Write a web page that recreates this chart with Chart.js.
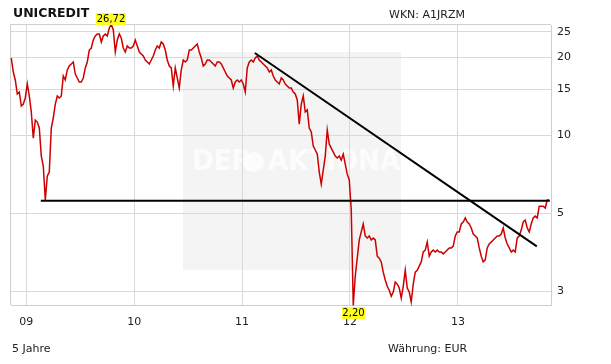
<!DOCTYPE html>
<html>
<head>
<meta charset="UTF-8">
<style>
  html, body { margin: 0; padding: 0; background: #fff; }
  #wrap { position: relative; width: 611px; height: 364px; }
  canvas { position: absolute; left: 0; top: 0; }
  .txt { position: absolute; font-family: "DejaVu Sans", sans-serif; font-size: 11px; line-height: 13px; color: #222; white-space: nowrap; }
</style>
</head>
<body>
<div id="wrap">
  <canvas id="myChart" width="611" height="364"></canvas>
  <div class="txt" style="left:13px;top:5px;font-size:12.5px;line-height:15px;font-weight:bold;color:#111">UNICREDIT</div>
  <div class="txt" style="left:389px;top:8px">WKN: A1JRZM</div>
  <div class="txt" style="left:12px;top:342px">5 Jahre</div>
  <div class="txt" style="left:388px;top:342px">Währung: EUR</div>
</div>

<script src="https://cdn.jsdelivr.net/npm/chart.js"></script>

<script>
    // Achsen
    const axisStart = '2008-11-10';
    const axisEnd = '2013-11-12';
    const yearTicks = [2009, 2010, 2011, 2012, 2013];
    const yearLabels = ['09', '10', '11', '12', '13'];
    const priceTicks = [2.5, 5, 10, 15, 20, 25];

    // Wochenschlusskurse (EUR), gleichmaessig zwischen erstem und letztem Schluss
    const firstClose = '2008-11-11';
    const lastClose = '2013-11-06';
    const closes = [
        19.84, 17.52, 16.32, 14.41, 14.67, 12.95, 13.18, 13.91, 15.75, 14.16,
        12.28, 9.74, 11.43, 11.23, 10.65, 8.30, 7.60, 5.62, 6.95, 7.20,
        10.65, 11.64, 13.18, 14.16, 13.91, 14.16, 16.91, 16.32, 17.84, 18.48,
        18.81, 19.15, 17.21, 16.61, 16.03, 16.03, 16.61, 18.16, 19.15, 21.30,
        21.68, 23.28, 24.12, 24.55, 24.55, 22.87, 24.12, 24.55, 24.12, 25.90,
        26.72, 25.44, 20.93, 23.28, 24.55, 23.70, 21.68, 20.93, 22.07, 21.68,
        21.68, 22.07, 23.28, 22.07, 20.93, 20.56, 20.20, 19.49, 19.15, 18.81,
        19.49, 20.20, 21.30, 22.07, 21.68, 22.87, 22.47, 21.30, 19.49, 18.48,
        18.16, 15.47, 18.16, 16.61, 15.20, 17.84, 19.49, 19.15, 19.49, 21.30,
        21.30, 21.68, 22.07, 22.47, 20.93, 19.84, 18.48, 18.81, 19.49, 19.49,
        19.15, 18.81, 18.48, 19.15, 19.15, 18.81, 18.16, 17.52, 16.91, 16.61,
        16.32, 15.20, 16.03, 16.32, 16.03, 16.32, 15.75, 14.67, 18.16, 19.15,
        19.49, 19.15, 19.84, 20.20, 19.49, 19.15, 18.81, 18.48, 18.16, 17.52,
        17.84, 16.91, 16.32, 16.03, 15.75, 16.61, 16.32, 15.75, 15.47, 15.20,
        15.20, 14.67, 14.41, 13.66, 11.03, 13.18, 14.16, 12.28, 12.50, 10.65,
        10.28, 9.07, 8.76, 8.45, 7.20, 6.47, 7.33, 8.30, 10.46, 9.24,
        8.91, 8.60, 8.30, 8.16, 8.30, 8.01, 8.45, 7.73, 7.07, 6.71,
        5.14, 2.20, 2.86, 3.35, 3.94, 4.23, 4.54, 4.08, 4.01, 4.08,
        3.94, 4.01, 3.94, 3.41, 3.35, 3.24, 2.96, 2.76, 2.61, 2.52,
        2.39, 2.48, 2.71, 2.66, 2.57, 2.35, 2.61, 3.01, 2.57, 2.48,
        2.27, 2.66, 2.96, 3.01, 3.12, 3.24, 3.54, 3.60, 3.87, 3.41,
        3.54, 3.60, 3.54, 3.60, 3.54, 3.54, 3.48, 3.54, 3.60, 3.67,
        3.67, 3.73, 4.08, 4.23, 4.23, 4.54, 4.62, 4.79, 4.62, 4.54,
        4.38, 4.15, 4.08, 4.01, 3.67, 3.41, 3.24, 3.30, 3.67, 3.80,
        3.87, 3.94, 4.01, 4.08, 4.08, 4.15, 4.38, 4.01, 3.80, 3.67,
        3.54, 3.60, 3.54, 4.01, 4.08, 4.30, 4.62, 4.70, 4.38, 4.23,
        4.54, 4.79, 4.87, 4.79, 5.32, 5.32, 5.32, 5.23, 5.62, 5.62
    ];

    // Trendlinien
    const supportDates = ['2009-02-19', '2013-11-08'];
    const supportValues = [5.58, 5.58];
    const trendDates = ['2011-02-13', '2013-09-25'];
    const trendValues = [20.75, 3.72];

    function toYear(s) {
        const d = new Date(s + 'T00:00:00Z');
        const y = d.getUTCFullYear();
        const a = Date.UTC(y, 0, 1), b = Date.UTC(y + 1, 0, 1);
        return y + (d.getTime() - a) / (b - a);
    }

    function priceSeries() {
        const t0 = toYear(firstClose), t1 = toYear(lastClose);
        const step = (t1 - t0) / (closes.length - 1);
        return closes.map((v, i) => ({ x: t0 + i * step, y: v }));
    }

    function pairs(dates, values) {
        return dates.map((d, i) => ({ x: toYear(d), y: values[i] }));
    }

    const fmt = v => v.toFixed(2).replace('.', ',');

    const decor = {
        id: 'decor',
        beforeDraw(chart) {
            const ctx = chart.ctx;
            ctx.save();
            ctx.fillStyle = '#fff';
            ctx.fillRect(0, 0, chart.width, chart.height);
            ctx.fillStyle = '#f4f4f4';
            ctx.fillRect(183, 52, 218, 218);
            // Wasserzeichen
            ctx.fillStyle = 'rgba(255,255,255,0.75)';
            ctx.font = 'bold 29px "Liberation Sans Narrow", "DejaVu Sans Condensed", sans-serif';
            ctx.textBaseline = 'middle';
            ctx.fillText('DER', 192, 162);
            ctx.beginPath();
            ctx.arc(254, 162, 10, 0, Math.PI * 2);
            ctx.fill();
            ctx.fillText('AKTIONÄR', 268, 162);
            ctx.restore();
        },
        beforeDatasetsDraw(chart) {
            const { ctx, chartArea: a } = chart;
            ctx.save();
            ctx.strokeStyle = '#cfcfcf';
            ctx.lineWidth = 1;
            ctx.beginPath();
            ctx.moveTo(a.left - 0.5, a.bottom);
            ctx.lineTo(a.left - 0.5, a.top - 0.5);
            ctx.lineTo(a.right, a.top - 0.5);
            ctx.stroke();
            ctx.restore();
        },
        afterDatasetsDraw(chart) {
            const ctx = chart.ctx;
            const data = chart.data.datasets[2].data;
            let hi = 0, lo = 0;
            data.forEach((p, i) => {
                if (p.y > data[hi].y) hi = i;
                if (p.y < data[lo].y) lo = i;
            });
            const xs = chart.scales.x, ys = chart.scales.y;
            function tag(p, above) {
                const px = xs.getPixelForValue(p.x), py = ys.getPixelForValue(p.y);
                const text = fmt(p.y);
                ctx.font = '10px "DejaVu Sans", sans-serif';
                const w = Math.round(ctx.measureText(text).width) + 1, h = 12;
                const x0 = Math.round(px - w / 2);
                const y0 = above ? Math.round(py - h + 1) : Math.round(py + 1);
                ctx.fillStyle = '#ffff22';
                ctx.fillRect(x0, y0, w, h);
                ctx.fillStyle = '#000';
                ctx.textAlign = 'center';
                ctx.textBaseline = 'middle';
                ctx.fillText(text, x0 + w / 2, y0 + h / 2 + 0.5);
            }
            ctx.save();
            tag(data[hi], true);
            tag(data[lo], false);
            ctx.restore();
        }
    };

    Chart.defaults.font.family = '"DejaVu Sans", sans-serif';
    Chart.defaults.font.size = 11;
    Chart.defaults.color = '#222';

    new Chart(document.getElementById('myChart'), {
        type: 'line',
        data: {
            datasets: [
                {
                    data: pairs(supportDates, supportValues),
                    borderColor: '#000',
                    borderWidth: 2,
                    pointRadius: 0
                },
                {
                    data: pairs(trendDates, trendValues),
                    borderColor: '#000',
                    borderWidth: 2,
                    pointRadius: 0
                },
                {
                    data: priceSeries(),
                    borderColor: '#cc0000',
                    borderWidth: 1.5,
                    pointRadius: 0,
                    tension: 0,
                    clip: 3
                }
            ]
        },
        options: {
            responsive: false,
            devicePixelRatio: 1,
            animation: false,
            events: [],
            layout: { padding: { left: 11, top: 25, right: 0, bottom: 0 } },
            plugins: { legend: { display: false }, tooltip: { enabled: false } },
            scales: {
                x: {
                    type: 'linear',
                    position: 'bottom',
                    min: toYear(axisStart),
                    max: toYear(axisEnd),
                    afterFit: s => { s.height = 59; },
                    afterBuildTicks: s => { s.ticks = yearTicks.map(v => ({ value: v })); },
                    grid: { color: '#d9d9d9', drawTicks: false },
                    border: { color: '#cfcfcf' },
                    ticks: {
                        padding: 11,
                        maxRotation: 0,
                        callback: (v) => yearLabels[yearTicks.indexOf(v)]
                    }
                },
                y: {
                    type: 'logarithmic',
                    position: 'right',
                    min: 2.21,
                    max: 26.6,
                    afterFit: s => { s.width = 60; },
                    afterBuildTicks: s => { s.ticks = priceTicks.map(v => ({ value: v })); },
                    grid: { color: '#d9d9d9', drawTicks: false },
                    border: { color: '#cfcfcf' },
                    ticks: {
                        padding: 6,
                        callback: (v) => String(Math.round(v))
                    }
                }
            }
        },
        plugins: [decor]
    });
</script>
</body>
</html>
